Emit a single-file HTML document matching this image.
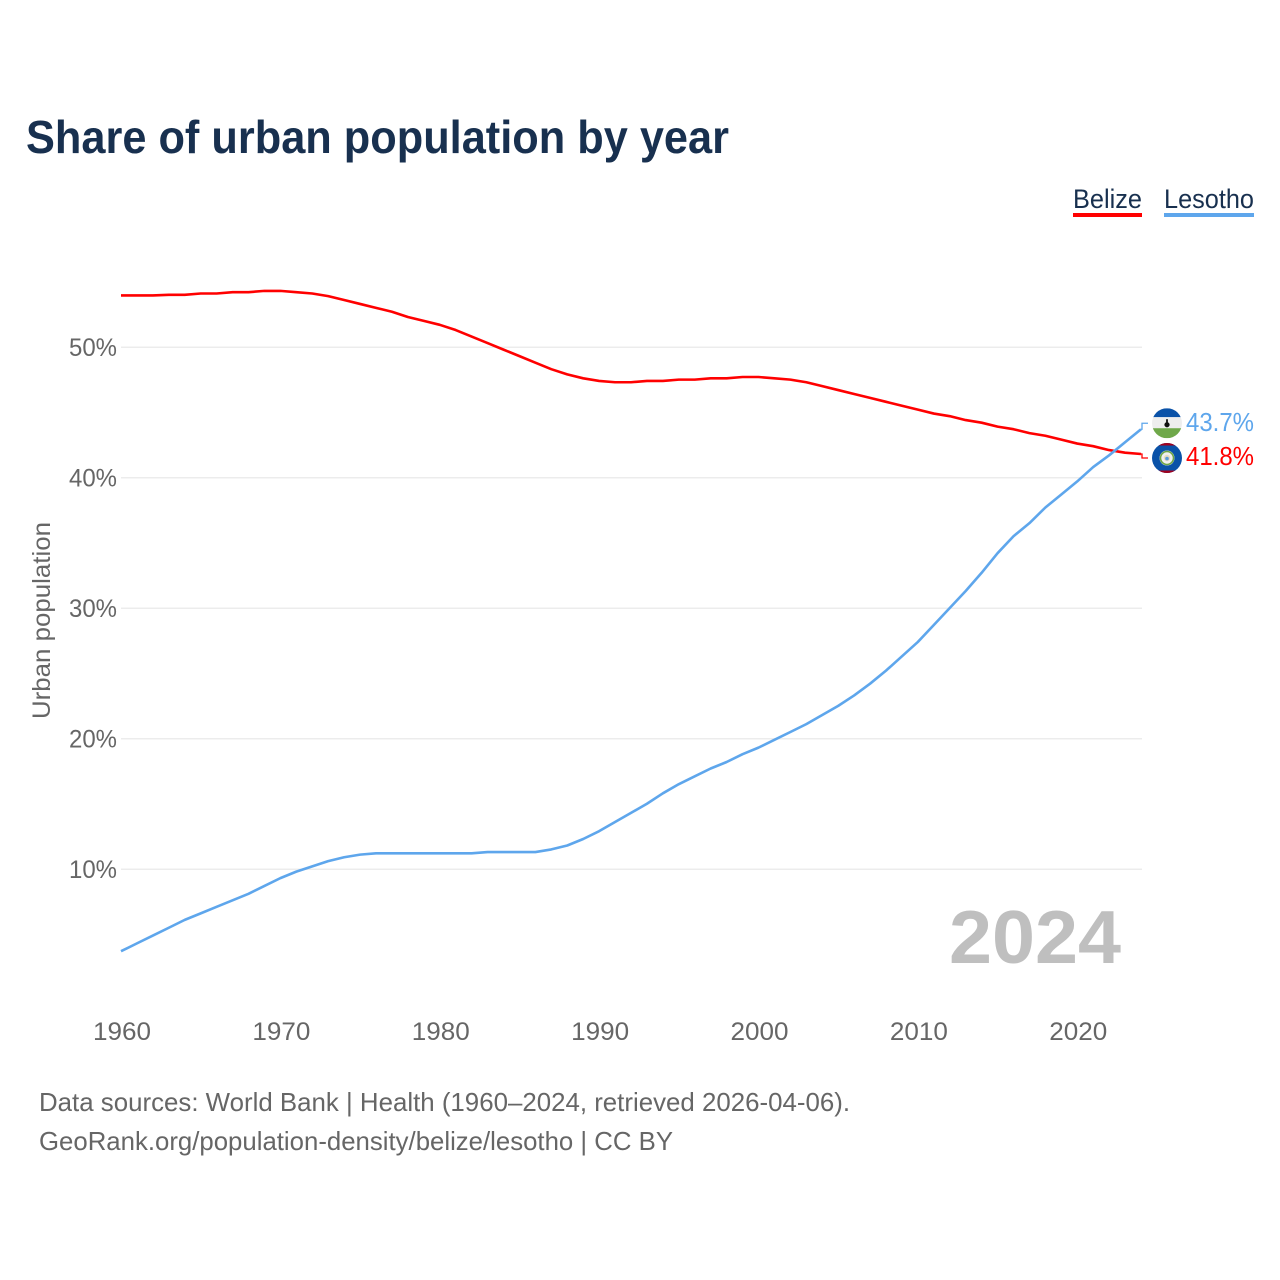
<!DOCTYPE html>
<html lang="en">
<head>
<meta charset="utf-8">
<title>Share of urban population by year</title>
<style>
html,body{margin:0;padding:0;background:#fff;}
svg{display:block;}
text{font-family:"Liberation Sans",sans-serif;}
</style>
</head>
<body>
<svg id="chart" xmlns="http://www.w3.org/2000/svg" width="1280" height="1280" viewBox="0 0 1280 1280">
  <defs>
    <clipPath id="flag-clip-a"><circle cx="0" cy="0" r="15"/></clipPath>
  </defs>
  <rect x="0" y="0" width="1280" height="1280" fill="#fff"/>
  <text x="26" y="153" font-size="46" font-weight="700" fill="#18304f" textLength="703" lengthAdjust="spacingAndGlyphs">Share of urban population by year</text>

  <g>
    <g>
      <text x="1073" y="208" font-size="26.5" fill="#18304f" textLength="69" lengthAdjust="spacingAndGlyphs">Belize</text>
      <rect x="1073" y="213" width="69" height="4" fill="#ff0000"/>
    </g>
    <g>
      <text x="1164" y="208" font-size="26.5" fill="#18304f" textLength="90" lengthAdjust="spacingAndGlyphs">Lesotho</text>
      <rect x="1164" y="213" width="90" height="4" fill="#5ea6ec"/>
    </g>
  </g>

  <g id="grid"></g>
  <g id="y-ticks"></g>
  <g id="x-ticks"></g>
  <text transform="translate(50,719) rotate(-90)" font-size="25" fill="#666" textLength="197" lengthAdjust="spacingAndGlyphs">Urban population</text>

  <text x="1121" y="963" text-anchor="end" font-size="75" font-weight="700" fill="#bfbfbf" textLength="172" lengthAdjust="spacingAndGlyphs">2024</text>

  <g id="series"></g>

  <g id="flag-lesotho">
    <g clip-path="url(#flag-clip-a)">
      <rect x="-15" y="-15" width="30" height="9" fill="#0a52a8"/>
      <rect x="-15" y="-6" width="30" height="11" fill="#eeeeee"/>
      <rect x="-15" y="5" width="30" height="10" fill="#6fa84a"/>
      <circle cx="0" cy="1.5" r="2.6" fill="#111"/>
      <rect x="-0.9" y="-4" width="1.8" height="6" fill="#111"/>
    </g>
  </g>
  <g id="flag-belize">
    <g clip-path="url(#flag-clip-a)">
      <rect x="-15" y="-15" width="30" height="30" fill="#0a52a8"/>
      <rect x="-15" y="-15" width="30" height="2.5" fill="#a2001d"/>
      <rect x="-15" y="12.5" width="30" height="2.5" fill="#a2001d"/>
      <circle cx="0" cy="0" r="7.5" fill="#f0f0f0"/>
      <circle cx="0" cy="0" r="6.5" fill="none" stroke="#6da544" stroke-width="1.6"/>
      <circle cx="0" cy="0" r="3.2" fill="#e8dcc0"/>
      <circle cx="0" cy="0.6" r="1.8" fill="#5a9bd8"/>
    </g>
  </g>
  <text id="label-lesotho" x="1186" font-size="25.5" fill="#5ea6ec" textLength="68" lengthAdjust="spacingAndGlyphs"></text>
  <text id="label-belize" x="1186" font-size="25.5" fill="#ff0000" textLength="68" lengthAdjust="spacingAndGlyphs"></text>

  <text x="39" y="1111" font-size="26" fill="#666" textLength="811" lengthAdjust="spacingAndGlyphs">Data sources: World Bank | Health (1960–2024, retrieved 2026-04-06).</text>
  <text x="39" y="1150" font-size="26" fill="#666" textLength="634" lengthAdjust="spacingAndGlyphs">GeoRank.org/population-density/belize/lesotho | CC BY</text>
</svg>
<script>
const startYear = 1960;
const xTickYears = [1960, 1970, 1980, 1990, 2000, 2010, 2020];
const yTickValues = [10, 20, 30, 40, 50];
const belizeValues = [53.95,53.95,53.95,54.0,54.0,54.1,54.1,54.2,54.2,54.3,54.3,54.2,54.1,53.9,53.6,53.3,53.0,52.7,52.3,52.0,51.7,51.3,50.8,50.3,49.8,49.3,48.8,48.3,47.9,47.6,47.4,47.3,47.3,47.4,47.4,47.5,47.5,47.6,47.6,47.7,47.7,47.6,47.5,47.3,47.0,46.7,46.4,46.1,45.8,45.5,45.2,44.9,44.7,44.4,44.2,43.9,43.7,43.4,43.2,42.9,42.6,42.4,42.1,41.9,41.8];
const lesothoValues = [3.7,4.3,4.9,5.5,6.1,6.6,7.1,7.6,8.1,8.7,9.3,9.8,10.2,10.6,10.9,11.1,11.2,11.2,11.2,11.2,11.2,11.2,11.2,11.3,11.3,11.3,11.3,11.5,11.8,12.3,12.9,13.6,14.3,15.0,15.8,16.5,17.1,17.7,18.2,18.8,19.3,19.9,20.5,21.1,21.8,22.5,23.3,24.2,25.2,26.3,27.4,28.7,30.0,31.3,32.7,34.2,35.5,36.5,37.7,38.7,39.7,40.8,41.7,42.7,43.7];

const NS = 'http://www.w3.org/2000/svg';
function xScale(year) { return 121 + (year - 1960) * (1141 - 121) / 64; }
function yScale(v) { return 347 + (50 - v) * 13.05; }
function mk(tag, attrs, parent) {
  const el = document.createElementNS(NS, tag);
  for (const k in attrs) el.setAttribute(k, attrs[k]);
  parent.appendChild(el);
  return el;
}
const grid = document.getElementById('grid');
const yTicks = document.getElementById('y-ticks');
const xTicks = document.getElementById('x-ticks');
const series = document.getElementById('series');

yTickValues.forEach(function (v) {
  const line = mk('line', {x1: 121, x2: 1142, y1: yScale(v) + 0.3, y2: yScale(v) + 0.3, stroke: '#ececec', 'stroke-width': 1.5}, grid);
  
  
  const t = mk('text', {x: 117, y: yScale(v) + 9, 'text-anchor': 'end', 'font-size': 25, fill: '#666', textLength: 48, lengthAdjust: 'spacingAndGlyphs'}, yTicks);
  t.textContent = v + '%';
  
  
});
xTickYears.forEach(function (y) {
  const t = mk('text', {x: xScale(y) + 1, y: 1040, 'text-anchor': 'middle', 'font-size': 25, fill: '#666', textLength: 58, lengthAdjust: 'spacingAndGlyphs'}, xTicks);
  t.textContent = y;
  
  
});

function linePath(values) {
  return values.map(function (v, i) {
    return (i ? 'L' : 'M') + xScale(startYear + i).toFixed(2) + ' ' + yScale(v).toFixed(2);
  }).join(' ');
}
function connector(values, labelY) {
  const ex = xScale(startYear + values.length - 1);
  const ey = yScale(values[values.length - 1]);
  return 'M' + ex + ' ' + ey + ' H' + (ex + 1) + ' V' + labelY + ' H' + (ex + 7);
}
const belizeLine = mk('path', {d: linePath(belizeValues), fill: 'none', stroke: '#ff0000', 'stroke-width': 2.6, 'stroke-linejoin': 'round'}, series);


const lesothoLine = mk('path', {d: linePath(lesothoValues), fill: 'none', stroke: '#5ea6ec', 'stroke-width': 2.6, 'stroke-linejoin': 'round'}, series);



const lastB = belizeValues[belizeValues.length - 1];
const lastL = lesothoValues[lesothoValues.length - 1];
const labelYL = yScale(lastL) - 6;
const labelYB = yScale(lastB) + 4;
const connB = mk('path', {d: connector(belizeValues, labelYB), fill: 'none', stroke: '#ff0000', 'stroke-width': 1.3}, series);


const connL = mk('path', {d: connector(lesothoValues, labelYL), fill: 'none', stroke: '#5ea6ec', 'stroke-width': 1.3}, series);



document.getElementById('flag-lesotho').setAttribute('transform', 'translate(1167,' + labelYL + ')');
document.getElementById('flag-belize').setAttribute('transform', 'translate(1167,' + labelYB + ')');
const lblL = document.getElementById('label-lesotho');
lblL.setAttribute('y', labelYL + 8);
lblL.textContent = lastL.toFixed(1) + '%';
const lblB = document.getElementById('label-belize');
lblB.setAttribute('y', labelYB + 7);
lblB.textContent = lastB.toFixed(1) + '%';
</script>
</body>
</html>
